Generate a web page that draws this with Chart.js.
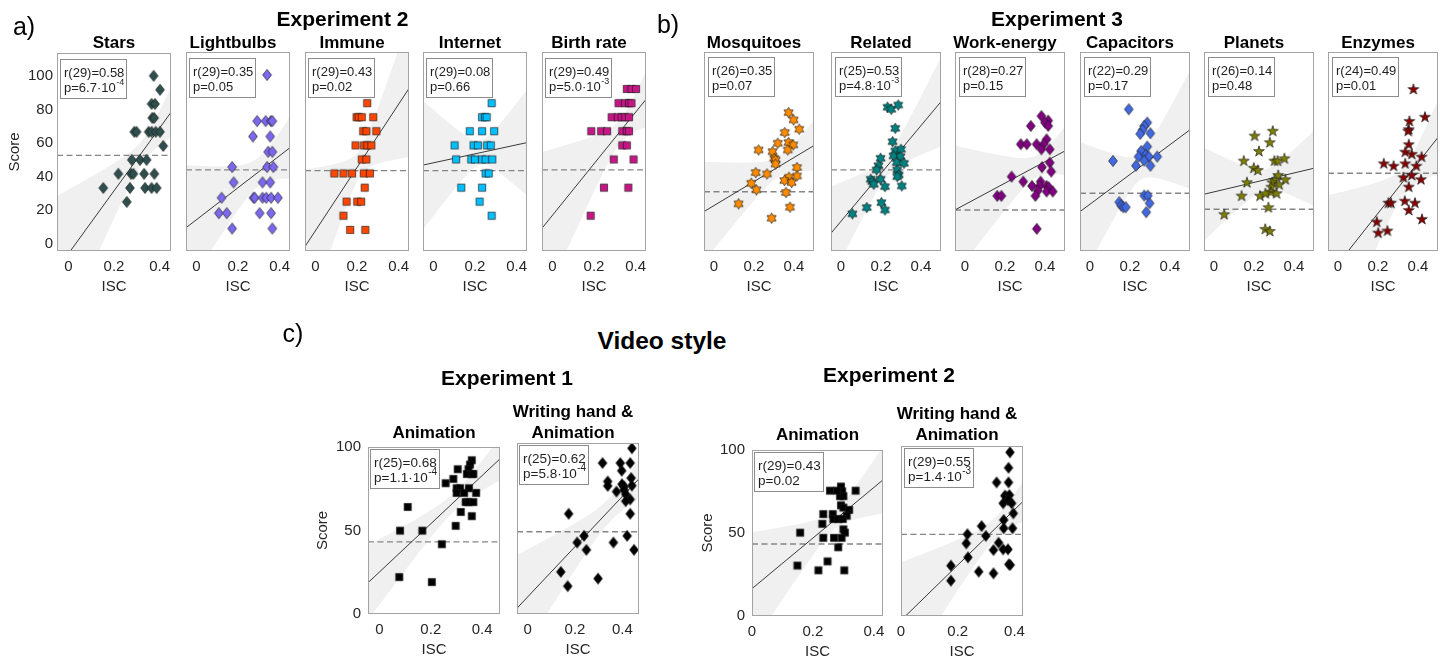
<!DOCTYPE html>
<html lang="en">
<head>
<meta charset="utf-8">
<title>ISC vs. score</title>
<script src="https://cdn.jsdelivr.net/npm/chart.js@4.4.1/dist/chart.umd.min.js"></script>
<style>
  html, body { margin: 0; padding: 0; background: #fff; }
  body { position: relative; width: 1440px; height: 660px; overflow: hidden;
         font-family: "Liberation Sans", Arial, Helvetica, sans-serif; color: #000; }
  canvas { position: absolute; }
  .lbl { position: absolute; white-space: nowrap; line-height: 1; transform: translate(-50%, -50%); }
</style>
</head>
<body>
<script>
const FONT = '"Liberation Sans", Arial, Helvetica, sans-serif';

// ---------- tick labels ----------
const iscTicks = [0, 0.2, 0.4];
const scoreTicksTop = [0, 20, 40, 60, 80, 100];
const scoreTicksBottom = [0, 50, 100];

// ---------- panel titles ----------
const panelTitles = ['Stars', 'Lightbulbs', 'Immune', 'Internet', 'Birth rate',
  'Mosquitoes', 'Related', 'Work-energy', 'Capacitors', 'Planets', 'Enzymes',
  'Animation', 'Writing hand &\nAnimation', 'Animation', 'Writing hand &\nAnimation'];

// ---------- Experiment 2 topics (ISC, score) ----------
const starsISC = [0.374, 0.402, 0.365, 0.380, 0.368, 0.376, 0.289, 0.299, 0.352, 0.365, 0.383, 0.402, 0.416, 0.278, 0.314, 0.343, 0.219, 0.275, 0.285, 0.332, 0.377, 0.153, 0.270, 0.336, 0.365, 0.387, 0.256];
const starsScore = [100, 91.7, 83.3, 83.3, 75, 75, 66.7, 66.7, 66.7, 66.7, 66.7, 66.7, 58.3, 50, 50, 50, 41.7, 41.7, 41.7, 41.7, 41.7, 33.3, 33.3, 33.3, 33.3, 33.3, 25];

const lightbulbsISC = [0.340, 0.292, 0.333, 0.358, 0.365, 0.272, 0.355, 0.345, 0.365, 0.172, 0.340, 0.370, 0.179, 0.318, 0.355, 0.121, 0.275, 0.280, 0.318, 0.336, 0.359, 0.392, 0.108, 0.146, 0.304, 0.359, 0.172, 0.365];
const lightbulbsScore = [100, 72.7, 72.7, 72.7, 72.7, 63.6, 63.6, 54.5, 54.5, 45.5, 45.5, 45.5, 36.4, 36.4, 36.4, 27.3, 27.3, 27.3, 27.3, 27.3, 27.3, 27.3, 18.2, 18.2, 18.2, 18.2, 9.1, 9.1];

const immuneISC = [0.249, 0.198, 0.208, 0.223, 0.278, 0.230, 0.245, 0.293, 0.193, 0.234, 0.249, 0.269, 0.223, 0.245, 0.091, 0.135, 0.176, 0.233, 0.262, 0.237, 0.150, 0.201, 0.220, 0.135, 0.167, 0.240];
const immuneScore = [83.3, 75, 75, 75, 75, 66.7, 66.7, 66.7, 58.3, 58.3, 58.3, 58.3, 50, 50, 41.7, 41.7, 41.7, 41.7, 41.7, 33.3, 25, 25, 25, 16.7, 8.3, 8.3];

const internetISC = [0.280, 0.234, 0.248, 0.256, 0.175, 0.234, 0.292, 0.102, 0.193, 0.214, 0.258, 0.276, 0.109, 0.182, 0.200, 0.234, 0.251, 0.283, 0.251, 0.266, 0.134, 0.234, 0.222, 0.280];
const internetScore = [83.3, 75, 75, 75, 66.7, 66.7, 66.7, 58.3, 58.3, 58.3, 58.3, 58.3, 50, 50, 50, 50, 50, 50, 41.7, 41.7, 33.3, 33.3, 25, 16.7];

const birthISC = [0.358, 0.380, 0.402, 0.318, 0.350, 0.368, 0.380, 0.285, 0.314, 0.333, 0.350, 0.368, 0.187, 0.234, 0.263, 0.336, 0.358, 0.368, 0.336, 0.358, 0.295, 0.390, 0.248, 0.365, 0.184];
const birthScore = [91.7, 91.7, 91.7, 83.3, 83.3, 83.3, 83.3, 75, 75, 75, 75, 75, 66.7, 66.7, 66.7, 66.7, 66.7, 66.7, 58.3, 58.3, 50, 50, 33.3, 33.3, 16.7];

// ---------- Experiment 3 topics ----------
const mosquitoesISC = [0.373, 0.398, 0.426, 0.354, 0.319, 0.373, 0.396, 0.223, 0.293, 0.369, 0.301, 0.308, 0.308, 0.415, 0.209, 0.265, 0.415, 0.375, 0.352, 0.388, 0.186, 0.212, 0.360, 0.123, 0.380, 0.288];
const mosquitoesScore = [77.7, 73.4, 67.9, 65.9, 59.6, 60.0, 58.6, 55.6, 54.6, 55.6, 50.7, 49.7, 47.3, 45.2, 42.2, 41.4, 40.2, 39.5, 37.5, 36.3, 35.9, 32.0, 30.4, 23.7, 21.7, 15.2];

const relatedISC = [0.233, 0.251, 0.286, 0.271, 0.258, 0.271, 0.300, 0.198, 0.263, 0.297, 0.187, 0.178, 0.279, 0.315, 0.281, 0.289, 0.281, 0.149, 0.156, 0.198, 0.164, 0.220, 0.304, 0.202, 0.129, 0.220, 0.057];
const relatedScore = [80.9, 79.7, 82.2, 68.4, 60.5, 55.0, 56.0, 50.7, 52.1, 51.7, 46.3, 43.8, 48.1, 47.7, 43.8, 40.8, 39.8, 38.3, 36.9, 38.3, 35.3, 33.9, 34.3, 24.4, 21.5, 20.1, 17.8];

const workISC = [0.382, 0.416, 0.400, 0.329, 0.416, 0.408, 0.279, 0.309, 0.358, 0.393, 0.382, 0.424, 0.424, 0.385, 0.431, 0.233, 0.291, 0.378, 0.335, 0.373, 0.408, 0.419, 0.364, 0.408, 0.439, 0.161, 0.182, 0.352, 0.359];
const workScore = [75.7, 73.0, 71.8, 69.8, 69.8, 61.9, 59.0, 59.0, 59.0, 59.0, 56.0, 56.0, 48.1, 45.4, 42.8, 39.8, 36.9, 36.9, 34.3, 34.3, 34.3, 33.5, 31.5, 31.0, 31.0, 28.4, 28.4, 28.4, 8.9];

const capacitorsISC = [0.194, 0.286, 0.271, 0.263, 0.251, 0.302, 0.256, 0.243, 0.286, 0.279, 0.294, 0.336, 0.115, 0.271, 0.230, 0.302, 0.271, 0.289, 0.298, 0.146, 0.156, 0.167, 0.179, 0.281];
const capacitorsScore = [79.7, 71.8, 69.8, 67.5, 65.1, 65.5, 55.0, 51.7, 57.6, 52.7, 51.7, 51.7, 49.1, 49.3, 46.3, 46.3, 28.6, 28.6, 24.1, 24.7, 22.7, 21.7, 21.7, 18.8];

const planetsISC = [0.294, 0.203, 0.279, 0.225, 0.149, 0.302, 0.318, 0.352, 0.199, 0.219, 0.321, 0.357, 0.302, 0.291, 0.165, 0.326, 0.287, 0.284, 0.138, 0.230, 0.257, 0.313, 0.272, 0.051, 0.256, 0.279];
const planetsScore = [67.0, 64.1, 60.2, 55.0, 49.3, 49.3, 49.3, 50.7, 45.1, 43.8, 40.8, 38.3, 37.9, 36.5, 36.5, 35.3, 33.9, 30.9, 28.6, 28.6, 30.0, 30.0, 21.7, 17.6, 8.9, 7.7];

const enzymesISC = [0.377, 0.435, 0.357, 0.354, 0.351, 0.354, 0.336, 0.369, 0.418, 0.229, 0.278, 0.336, 0.392, 0.327, 0.369, 0.415, 0.354, 0.252, 0.265, 0.334, 0.385, 0.354, 0.420, 0.194, 0.201, 0.247];
const enzymesScore = [91.7, 75.3, 72.8, 67.9, 67.0, 59.0, 54.6, 53.3, 51.7, 47.7, 46.3, 47.7, 46.3, 39.5, 40.8, 38.3, 33.9, 24.4, 24.4, 25.6, 24.4, 20.1, 14.8, 13.2, 6.7, 7.9];

// ---------- Video style ----------
const exp1AnimISC = [0.360, 0.353, 0.305, 0.347, 0.341, 0.360, 0.366, 0.288, 0.258, 0.301, 0.314, 0.349, 0.301, 0.330, 0.377, 0.336, 0.347, 0.366, 0.110, 0.317, 0.360, 0.297, 0.080, 0.167, 0.243, 0.077, 0.204];
const exp1AnimScore = [92.1, 89.5, 86.7, 86.7, 83.8, 83.8, 83.8, 80.9, 78.3, 75.3, 75.3, 75.3, 72.5, 72.5, 72.5, 67.0, 67.0, 67.0, 64.1, 61.1, 58.6, 52.8, 49.9, 49.9, 41.8, 22.1, 19.1];

const exp1HandISC = [0.440, 0.316, 0.391, 0.433, 0.397, 0.338, 0.338, 0.437, 0.398, 0.407, 0.440, 0.375, 0.407, 0.414, 0.433, 0.414, 0.173, 0.433, 0.238, 0.420, 0.209, 0.362, 0.248, 0.449, 0.140, 0.297, 0.169];
const exp1HandScore = [96.9, 88.3, 88.3, 88.3, 83.8, 77.5, 74.9, 79.5, 75.9, 74.5, 75.1, 71.6, 72.5, 70.0, 67.0, 66.0, 58.6, 58.6, 45.7, 45.7, 41.8, 41.8, 37.5, 37.5, 24.6, 20.7, 16.3];

const exp2AnimISC = [0.292, 0.296, 0.289, 0.300, 0.256, 0.279, 0.340, 0.292, 0.234, 0.265, 0.300, 0.319, 0.311, 0.267, 0.283, 0.298, 0.231, 0.300, 0.305, 0.158, 0.234, 0.269, 0.294, 0.283, 0.248, 0.149, 0.218, 0.303];
const exp2AnimScore = [78.0, 75.1, 72.2, 72.2, 75.5, 75.5, 75.5, 66.7, 61.4, 61.4, 65.3, 63.9, 60.4, 58.4, 58.4, 58.4, 55.5, 52.2, 50.2, 50.2, 47.1, 47.1, 47.1, 41.4, 32.9, 30.4, 27.5, 27.5];

const exp2HandISC = [0.384, 0.379, 0.337, 0.379, 0.366, 0.371, 0.382, 0.377, 0.360, 0.390, 0.396, 0.362, 0.362, 0.393, 0.284, 0.299, 0.234, 0.230, 0.344, 0.326, 0.360, 0.377, 0.236, 0.380, 0.385, 0.176, 0.274, 0.326, 0.176];
const exp2HandScore = [96.3, 87.2, 78.6, 78.6, 70.8, 70.2, 71.2, 68.2, 66.3, 66.3, 60.4, 56.5, 51.6, 51.6, 52.9, 47.1, 48.1, 42.7, 43.1, 38.8, 39.2, 39.2, 34.5, 30.4, 30.0, 29.6, 26.1, 25.1, 20.8];

// ---------- per-panel statistics ----------
const rLabels = ['r(29)=0.58', 'r(29)=0.35', 'r(29)=0.43', 'r(29)=0.08', 'r(29)=0.49',
  'r(26)=0.35', 'r(25)=0.53', 'r(28)=0.27', 'r(22)=0.29', 'r(26)=0.14', 'r(24)=0.49',
  'r(25)=0.68', 'r(25)=0.62', 'r(29)=0.43', 'r(29)=0.55'];
const pLabels = ['p=6.7\u00b710^-4', 'p=0.05', 'p=0.02', 'p=0.66', 'p=5.0\u00b710^-3',
  'p=0.07', 'p=4.8\u00b710^-3', 'p=0.15', 'p=0.17', 'p=0.48', 'p=0.01',
  'p=1.1\u00b710^-4', 'p=5.8\u00b710^-4', 'p=0.02', 'p=1.4\u00b710^-3'];
// regression line: score = intercept + slope * ISC
const fitIntercept = [-5.8, 14.3, 7.8, 48.0, 16.9, 22.7, 13.4, 23.3, 23.5, 30.8, -11.8, 25.2, 10.0, 16.5, -2.6];
const fitSlope = [186.9, 94.8, 187.2, 26.6, 152.6, 71.1, 141.6, 63.5, 88.1, 28.0, 149.7, 144.1, 147.0, 152.3, 162.8];
// dashed reference score
const refScore = [52.7, 43.8, 43.4, 43.4, 43.8, 30.9, 43.8, 20.1, 30.0, 20.5, 41.8, 43.2, 48.1, 43.4, 48.0];

const panelISC = [starsISC, lightbulbsISC, immuneISC, internetISC, birthISC,
  mosquitoesISC, relatedISC, workISC, capacitorsISC, planetsISC, enzymesISC,
  exp1AnimISC, exp1HandISC, exp2AnimISC, exp2HandISC];
const panelScore = [starsScore, lightbulbsScore, immuneScore, internetScore, birthScore,
  mosquitoesScore, relatedScore, workScore, capacitorsScore, planetsScore, enzymesScore,
  exp1AnimScore, exp1HandScore, exp2AnimScore, exp2HandScore];

// ---------- marker styles ----------
const markerStyles = [
  ['diamond', '#2f4f4f'], ['diamond', '#7b68ee'], ['square', '#ff4500'], ['square', '#00bfff'], ['square', '#c71585'],
  ['hexagram', '#ff8c00'], ['hexagram', '#008080'], ['diamond', '#800080'], ['diamond', '#4169e1'],
  ['pentagram', '#808000'], ['pentagram', '#8b0000'],
  ['square', '#000000'], ['diamond', '#000000'], ['square', '#000000'], ['diamond', '#000000']
];

function makeMarker(shape, fill) {
  const size = { diamond: [12, 14], square: [10, 10], hexagram: [13, 13], pentagram: [14, 14] }[shape];
  const c = document.createElement('canvas');
  c.width = size[0]; c.height = size[1];
  const g = c.getContext('2d');
  const cx = c.width / 2, cy = c.height / 2;
  g.beginPath();
  if (shape === 'diamond') {
    g.moveTo(cx, cy - 5.6); g.lineTo(cx + 4.4, cy); g.lineTo(cx, cy + 5.6); g.lineTo(cx - 4.4, cy);
  } else if (shape === 'square') {
    g.rect(cx - 3.6, cy - 3.6, 7.2, 7.2);
  } else {
    const n = shape === 'hexagram' ? 6 : 5;
    const R = shape === 'hexagram' ? 5.3 : 5.7;
    const r = shape === 'hexagram' ? R / Math.sqrt(3) : R * 0.382;
    for (let k = 0; k < 2 * n; k++) {
      const ang = -Math.PI / 2 + k * Math.PI / n;
      const rad = k % 2 ? r : R;
      const px = cx + rad * Math.cos(ang), py = cy + rad * Math.sin(ang) + (n === 5 ? 0.5 : 0);
      k ? g.lineTo(px, py) : g.moveTo(px, py);
    }
  }
  g.closePath();
  g.fillStyle = fill; g.fill();
  g.lineWidth = 0.8; g.strokeStyle = 'rgba(25,25,25,0.85)'; g.stroke();
  return c;
}

// ---------- panel frames (pixel layout) ----------
const PAD_T = 12, PAD_R = 10, PAD_B = 45;
const frames = [];
[57, 176, 295, 413, 532].forEach((l, i) => frames.push({
  left: l, top: 52, w: 114, h: 199, xr: [-0.05, 0.45], yr: [-4.2, 113.6],
  yTicks: i === 0 ? scoreTicksTop : null, padL: i === 0 ? 51 : 10, tickPad: 4,
  note: [3, 5.5], noteFont: 13, titleY: [42.5] }));
[694, 821, 945, 1070, 1194, 1318].forEach(l => frames.push({
  left: l, top: 52, w: 120, h: 199, xr: [-0.05, 0.5], yr: [-4.2, 113.6],
  yTicks: null, padL: 10, tickPad: 4, note: [4, 5], noteFont: 13, titleY: [42.5] }));
frames.push({ left: 368, top: 443, w: 132, h: 171, xr: [-0.045, 0.47], yr: [0, 100],
  yTicks: scoreTicksBottom, padL: 54, tickPad: 7, note: [1.5, 2], noteFont: 13.5, titleY: [432.5] });
frames.push({ left: 507, top: 443, w: 132, h: 171, xr: [-0.045, 0.47], yr: [0, 100],
  yTicks: null, padL: 10, tickPad: 7, note: [1.5, 2], noteFont: 13.5, titleY: [412, 432.5] });
frames.push({ left: 752, top: 446, w: 131, h: 170, xr: [0, 0.43], yr: [0, 100],
  yTicks: scoreTicksBottom, padL: 53, tickPad: 7, note: [2, 1.5], noteFont: 13.5, titleY: [435] });
frames.push({ left: 891, top: 446, w: 132, h: 170, xr: [0, 0.43], yr: [0, 100],
  yTicks: null, padL: 10, tickPad: 7, note: [2.5, 1.5], noteFont: 13.5, titleY: [414, 435] });

// ---------- 95% confidence band of the fitted line ----------
function tQuantile975(df) {
  const z = 1.959964;
  return z + (z ** 3 + z) / (4 * df) + (5 * z ** 5 + 16 * z ** 3 + 3 * z) / (96 * df * df);
}
function confidenceBand(xs, ys, a, b, xmin, xmax) {
  const n = xs.length;
  const mx = xs.reduce((s, v) => s + v, 0) / n;
  let sxx = 0, sse = 0;
  xs.forEach((x, k) => { sxx += (x - mx) ** 2; const e = ys[k] - (a + b * x); sse += e * e; });
  const s = Math.sqrt(sse / (n - 2));
  const t = tQuantile975(n - 2);
  const upper = [], lower = [];
  const steps = 60;
  for (let k = 0; k <= steps; k++) {
    const x = xmin + (xmax - xmin) * k / steps;
    const yhat = a + b * x;
    const h = t * s * Math.sqrt(1 / n + (x - mx) ** 2 / sxx);
    upper.push({ x, y: yhat + h });
    lower.push({ x, y: yhat - h });
  }
  return { upper, lower };
}

// ---------- frame + statistics box ----------
const panelFrame = {
  id: 'panelFrame',
  afterDatasetsDraw(chart, args, o) {
    const { ctx, chartArea: ca } = chart;
    ctx.save();
    const big = `${o.fontSize}px ${FONT}`;
    const small = `${Math.round(o.fontSize * 0.72)}px ${FONT}`;
    const [mant, exp] = o.p.split('^');
    ctx.font = big;
    const wr = ctx.measureText(o.r).width, wm = ctx.measureText(mant).width;
    let we = 0;
    if (exp) { ctx.font = small; we = ctx.measureText(exp).width + 0.5; }
    const bw = Math.round(Math.max(wr, wm + we) + 6), bh = 39;
    const bx = Math.round(ca.left + o.dx) + 0.5, by = Math.round(ca.top + o.dy) + 0.5;
    ctx.fillStyle = '#ffffff'; ctx.fillRect(bx, by, bw, bh);
    ctx.strokeStyle = '#8c8c8c'; ctx.lineWidth = 1; ctx.strokeRect(bx, by, bw, bh);
    ctx.fillStyle = '#1f1f1f'; ctx.textAlign = 'left'; ctx.textBaseline = 'alphabetic';
    ctx.font = big;
    ctx.fillText(o.r, bx + 3.5, by + 17.5);
    ctx.fillText(mant, bx + 3.5, by + 32);
    if (exp) { ctx.font = small; ctx.fillText(exp, bx + 3.5 + wm + 0.5, by + 25); }
    ctx.restore();
  },
  afterDraw(chart) {
    const { ctx, chartArea: ca } = chart;
    ctx.save();
    ctx.strokeStyle = '#a3a3a3'; ctx.lineWidth = 1;
    ctx.strokeRect(Math.round(ca.left) + 0.5, Math.round(ca.top) + 0.5,
      Math.round(ca.right - ca.left) - 1, Math.round(ca.bottom - ca.top) - 1);
    ctx.restore();
  }
};

Chart.defaults.font.family = FONT;

function addLabel(text, cx, cy, font) {
  const d = document.createElement('div');
  d.className = 'lbl';
  d.textContent = text;
  d.style.left = cx + 'px';
  d.style.top = cy + 'px';
  d.style.font = font;
  document.body.appendChild(d);
}

frames.forEach((f, i) => {
  const cv = document.createElement('canvas');
  const W = f.padL + f.w + PAD_R, H = PAD_T + f.h + PAD_B;
  cv.width = W; cv.height = H;
  cv.style.width = W + 'px'; cv.style.height = H + 'px';
  cv.style.left = (f.left - f.padL) + 'px';
  cv.style.top = (f.top - PAD_T) + 'px';
  document.body.appendChild(cv);

  const xs = panelISC[i], ys = panelScore[i];
  const a = fitIntercept[i], b = fitSlope[i];
  const band = confidenceBand(xs, ys, a, b, f.xr[0], f.xr[1]);
  const marker = makeMarker(markerStyles[i][0], markerStyles[i][1]);
  const tickFont = { size: 15 };
  const tickColor = '#262626';

  new Chart(cv, {
    type: 'line',
    data: {
      datasets: [
        { data: xs.map((x, k) => ({ x, y: ys[k] })), showLine: false,
          pointStyle: marker, pointRadius: 4, pointHoverRadius: 4, borderWidth: 0 },
        { data: [{ x: f.xr[0], y: a + b * f.xr[0] }, { x: f.xr[1], y: a + b * f.xr[1] }],
          borderColor: '#262626', borderWidth: 0.9, pointRadius: 0 },
        { data: [{ x: f.xr[0], y: refScore[i] }, { x: f.xr[1], y: refScore[i] }],
          borderColor: '#858585', borderWidth: 1.4, borderDash: [6, 3.5], pointRadius: 0 },
        { data: band.upper, borderWidth: 0, borderColor: 'rgba(0,0,0,0)', pointRadius: 0, fill: false },
        { data: band.lower, borderWidth: 0, borderColor: 'rgba(0,0,0,0)', pointRadius: 0,
          fill: '-1', backgroundColor: '#f0f0f0' }
      ]
    },
    plugins: [panelFrame],
    options: {
      responsive: false, animation: false, devicePixelRatio: 1, events: [],
      layout: { padding: { left: f.yTicks ? 0 : f.padL, top: PAD_T, right: PAD_R, bottom: 0 } },
      elements: { line: { tension: 0 } },
      plugins: {
        legend: { display: false }, tooltip: { enabled: false },
        panelFrame: { r: rLabels[i], p: pLabels[i], dx: f.note[0], dy: f.note[1], fontSize: f.noteFont }
      },
      scales: {
        x: {
          type: 'linear', min: f.xr[0], max: f.xr[1],
          afterBuildTicks: s => { s.ticks = iscTicks.map(v => ({ value: v })); },
          afterFit: s => { s.height = PAD_B; },
          grid: { display: false, drawTicks: false }, border: { display: false },
          ticks: { padding: 7, color: tickColor, font: tickFont, maxRotation: 0, autoSkip: false,
                   callback: v => String(v) },
          title: { display: true, text: 'ISC', color: tickColor, font: tickFont, padding: 0 }
        },
        y: {
          type: 'linear', min: f.yr[0], max: f.yr[1], display: !!f.yTicks,
          afterBuildTicks: s => { if (f.yTicks) s.ticks = f.yTicks.map(v => ({ value: v })); },
          afterFit: s => { s.width = f.padL; },
          grid: { display: false, drawTicks: false }, border: { display: false },
          ticks: { padding: f.tickPad, color: tickColor, font: tickFont, autoSkip: false,
                   callback: v => String(v) },
          title: { display: true, text: 'Score', color: tickColor, font: tickFont, padding: 0 }
        }
      }
    }
  });

  // subplot title
  const lines = panelTitles[i].split('\n');
  lines.forEach((t, k) => addLabel(t, f.left + f.w / 2, f.titleY[k], `bold 17px ${FONT}`));
});

// figure headings
addLabel('a)', 24, 25.5, `400 25px ${FONT}`);
addLabel('b)', 668, 24, `400 25px ${FONT}`);
addLabel('c)', 293, 333, `400 25px ${FONT}`);
addLabel('Experiment 2', 342.5, 19, `bold 21px ${FONT}`);
addLabel('Experiment 3', 1057, 19, `bold 21px ${FONT}`);
addLabel('Video style', 662, 341, `bold 24.5px ${FONT}`);
addLabel('Experiment 1', 507, 378, `bold 21px ${FONT}`);
addLabel('Experiment 2', 889, 375, `bold 21px ${FONT}`);
</script>
</body>
</html>
